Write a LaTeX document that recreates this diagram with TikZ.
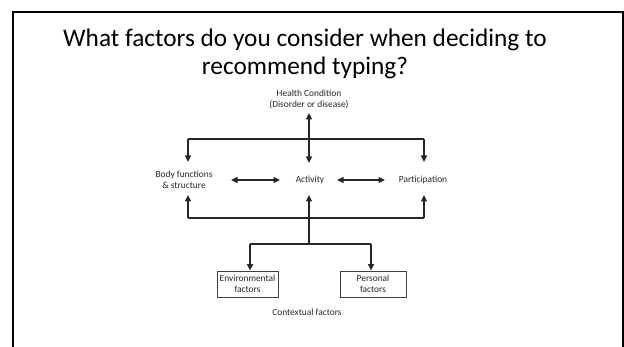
\documentclass[tikz,border=0pt]{standalone}
\usepackage{fontspec}
\setmainfont{Carlito}
\usetikzlibrary{arrows.meta}
\begin{document}
\begin{tikzpicture}[x=1pt,y=-1pt,
  lbl/.style={font=\fontsize{9.4}{11.5}\selectfont, align=center, inner sep=0pt, text=black!85},
  fbox/.style={draw=black!75, line width=0.9pt, minimum height=26pt, inner sep=0pt, align=center,
    font=\fontsize{9.4}{11.5}\selectfont, text=black!85},
  conn/.style={line width=1.5pt, draw=black!85},
  tip/.style={conn, -{Triangle[length=6.5pt,width=6pt]}},
  dtip/.style={conn, {Triangle[length=6.5pt,width=6pt]}-{Triangle[length=6.5pt,width=6pt]}}]
\useasboundingbox (0,0) rectangle (624,347);
% slide frame
\draw[line width=2.2pt] (13,349) -- (13,12) -- (622.6,12) -- (622.6,349);
% title
\node[anchor=base, align=center, inner sep=0pt, font=\fontsize{25.3}{28}\selectfont] (title) at (305,75)
  {What factors do you consider when deciding to\\recommend typing?};
% nodes
\node[lbl] (hc) at (309,99.5) {Health Condition\\(Disorder or disease)};
\node[lbl] (body) at (184,180) {Body functions\\\& structure};
\node[lbl] (act) at (310,180) {Activity};
\node[lbl] (part) at (423,180) {Participation};
\node[fbox, minimum width=61pt] (env) at (247.5,284) {Environmental\\factors};
\node[fbox, minimum width=66pt] (pers) at (373,284) {Personal\\factors};
\node[lbl] (ctx) at (307,312) {Contextual factors};
% junction coordinates
\coordinate (hcS) at (309,113);
\coordinate (actN) at (309,163);
\coordinate (tl) at (188,139);
\coordinate (tr) at (424,139);
\coordinate (bodyN) at (188,162);
\coordinate (partN) at (424,162);
\coordinate (bodyS) at (188,195);
\coordinate (actS) at (309,195);
\coordinate (partS) at (424,195);
\coordinate (bl) at (188,218);
\coordinate (bm) at (309,218);
\coordinate (br) at (424,218);
\coordinate (cm) at (309,244);
\coordinate (cl) at (250,244);
\coordinate (cr) at (371,244);
\coordinate (bodyE) at (231,180);
\coordinate (actW) at (280,180);
\coordinate (actE) at (337,180);
\coordinate (partW) at (385,180);
% top connectors
\draw[dtip] (hcS) -- (actN);
\draw[conn] (tl) -- (tr);
\draw[tip] (tl) -- (bodyN);
\draw[tip] (tr) -- (partN);
% side double arrows
\draw[dtip] (bodyE) -- (actW);
\draw[dtip] (actE) -- (partW);
% bottom connectors
\draw[conn] (bl) -- (br);
\draw[tip] (bl) -- (bodyS);
\draw[tip] (bm) -- (actS);
\draw[tip] (br) -- (partS);
\draw[conn] (bm) -- (cm);
\draw[conn] (cl) -- (cr);
\draw[tip] (cl) -- (cl |- env.north);
\draw[tip] (cr) -- (cr |- pers.north);
\end{tikzpicture}
\end{document}
